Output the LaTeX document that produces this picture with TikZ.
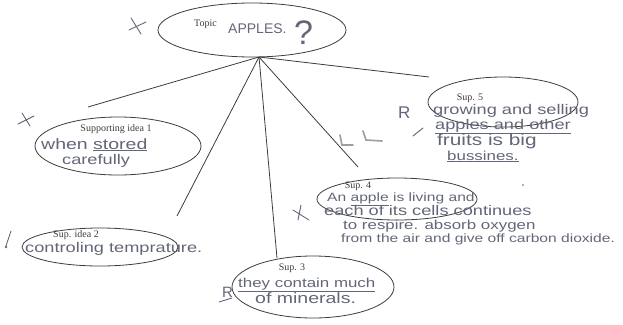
\documentclass[tikz,border=0pt]{standalone}
\usepackage{fontspec}
\setmainfont{Liberation Serif}
\newfontfamily\handfont[FakeStretch=1.3]{Liberation Sans}
\newfontfamily\handplain{Liberation Sans}
\usetikzlibrary{shapes.geometric}
\definecolor{ink}{HTML}{3C3C3C}
\definecolor{pencil}{HTML}{626678}
\definecolor{faint}{HTML}{9A9CA6}
\tikzset{
  bubble/.style={draw=ink, line width=0.8pt, ellipse, inner sep=0pt},
  printed/.style={text=ink, font=\fontsize{10}{10}\selectfont, inner sep=0pt},
  hand/.style={text=pencil, font=\handfont\fontsize{#1}{#1}\selectfont, inner sep=0pt, anchor=base west},
  hand/.default=12,
  handp/.style={text=pencil, font=\handplain\fontsize{#1}{#1}\selectfont, inner sep=0pt, anchor=base west},
  link/.style={draw=ink, line width=0.8pt},
  gradestroke/.style={draw=pencil, line width=0.9pt, line cap=round},
}
\begin{document}
\begin{tikzpicture}[x=1pt,y=-1pt]
\useasboundingbox (0,0) rectangle (623,324);
% bubbles
\node[bubble, minimum width=188pt, minimum height=54pt] (topic) at (252,30) {};
\node[bubble, minimum width=166pt, minimum height=58pt] (s1) at (118,146) {};
\node[bubble, minimum width=156pt, minimum height=38pt] (s2) at (100,247) {};
\node[bubble, minimum width=162pt, minimum height=62pt] (s3) at (313,287) {};
\node[bubble, minimum width=160pt, minimum height=42pt] (s4) at (397,199) {};
\node[bubble, minimum width=150pt, minimum height=50pt] (s5) at (503,102) {};
% connectors
\coordinate (hub) at (259,57);
\coordinate (e1) at (88,107);
\coordinate (e2) at (177,216);
\coordinate (e3) at (277,258);
\coordinate (e4) at (358,167);
\coordinate (e5) at (429,77);
\draw[link] (hub) -- (e1);
\draw[link] (hub) -- (e2);
\draw[link] (hub) -- (e3);
\draw[link] (hub) -- (e4);
\draw[link] (hub) -- (e5);
% topic text
\node[printed, anchor=base west] (tl) at (194,26) {Topic};
\node[handp=14] (tt) at (228,33) {APPLES.};
\node[handp=34] (tq) at (294,44) {?};
% sup 1
\node[printed, anchor=base] (l1) at (116,131) {Supporting idea 1};
\node[hand=15] (h1a) at (41,149) {when \underline{stored}};
\node[hand=14] (h1b) at (62,164) {carefully};
% sup 2
\node[printed, anchor=base] (l2) at (76,237) {Sup. idea 2};
\node[hand=14] (h2) at (25,252) {controling temprature.};
% sup 3
\node[printed, anchor=base] (l3) at (292,270) {Sup. 3};
\node[hand=13] (h3a) at (238,287) {\underline{they contain much}};
\node[hand=15] (h3b) at (255,303) {of minerals.};
% sup 4
\node[printed, anchor=base] (l4) at (358,188) {Sup. 4};
\node[hand=12] (h4a) at (327,201) {An \underline{apple} is living and};
\node[hand=14] (h4b) at (324,215) {each of its cells continues};
\node[hand=13] (h4c) at (343,229) {to respire. absorb oxygen};
\node[hand=12] (h4d) at (341,242) {from the air and give off carbon dioxide.};
% sup 5
\node[printed, anchor=base] (l5) at (470,100) {Sup. 5};
\node[hand=14] (h5a) at (433,114) {growing and selling};
\node[hand=14] (h5b) at (435,129) {\underline{apples and other}};
\node[hand=16] (h5c) at (437,145) {fruits is big};
\node[hand=13] (h5d) at (447,160) {\underline{bussines.}};
% grading marks
\draw[gradestroke] (131,18) -- (141,34) (129,30) -- (146,22);
\draw[gradestroke] (22,113) -- (30,126) (18,124) -- (34,116);
\draw[gradestroke] (11,231) -- (6,246);
\fill[pencil] (6,247) circle (1.3pt);
\node[handp=15] (r3) at (222,297) {R};
\draw[gradestroke] (219,302) -- (232,298);
\draw[gradestroke] (301,205) -- (298,220) (293,210) -- (309,220);
\node[handp=17] (r5) at (398,118) {R};
\draw[gradestroke] (413,136) -- (423,128);
\draw[faint, line width=1.6pt, line cap=round] (340,135) -- (342,145) -- (353,145) (363,131) -- (366,140) -- (382,141);
\fill[pencil] (523,185) circle (0.9pt);
\end{tikzpicture}
\end{document}
